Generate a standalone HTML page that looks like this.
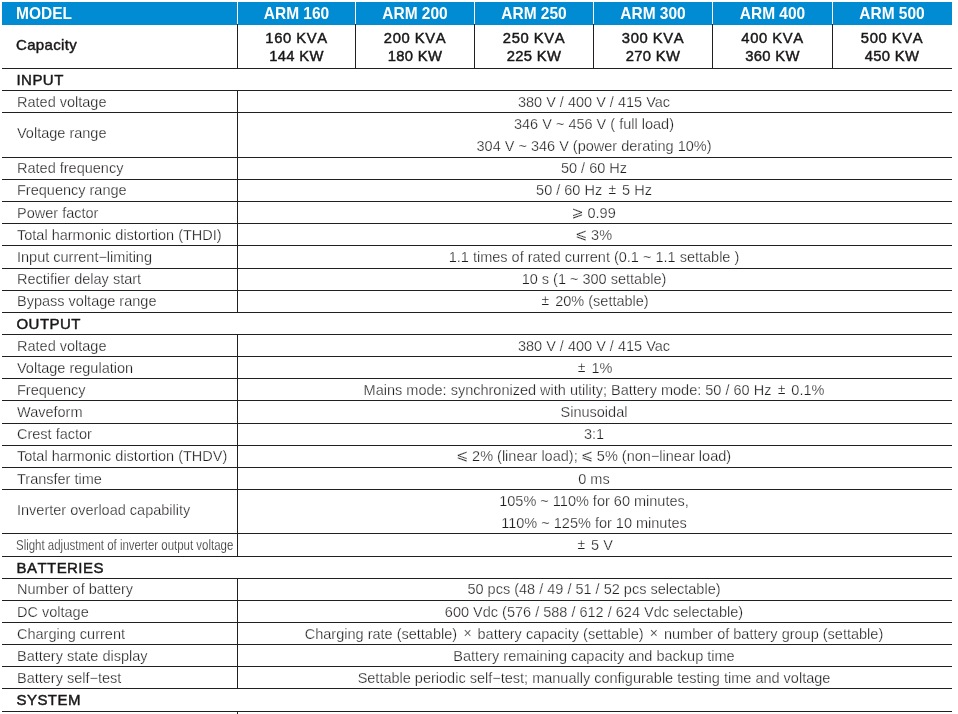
<!DOCTYPE html>
<html><head><meta charset="utf-8"><title>ARM specifications</title>
<style>
html,body{margin:0;padding:0;background:#fff;}
body{width:958px;height:714px;position:relative;overflow:hidden;font-family:"Liberation Sans",sans-serif;color:#231f20;}
.wrap{position:absolute;left:0;top:0;width:958px;height:714px;will-change:transform;}
.a{position:absolute;}
.hl{position:absolute;left:2px;width:950px;height:1px;background:#231f20;}
.vl{position:absolute;width:1px;background:#231f20;}
.hd{position:absolute;top:2px;height:23px;background:#008bd2;}
.ht{position:absolute;top:2px;height:23px;line-height:23px;color:#fff;font-weight:bold;font-size:15.5px;white-space:nowrap;transform:scaleY(1.08);transform-origin:0 17px;}
.cap{position:absolute;font-weight:normal;-webkit-text-stroke:0.45px #1a1718;font-size:14.8px;letter-spacing:0.3px;line-height:18px;text-align:center;white-space:nowrap;color:#1a1718;font-kerning:none;}
.sec{height:21px;line-height:21px;position:absolute;left:16.5px;font-weight:normal;-webkit-text-stroke:0.45px #1a1718;font-size:15px;letter-spacing:0.45px;font-kerning:none;white-space:nowrap;color:#1a1718;}
.lab{height:21px;line-height:21px;position:absolute;left:17px;font-size:14.5px;white-space:nowrap;color:#231f20;-webkit-text-stroke:0.25px #fff;}
.val{height:21px;line-height:21px;position:absolute;left:236px;width:716px;text-align:center;font-size:14.5px;white-space:nowrap;color:#231f20;-webkit-text-stroke:0.25px #fff;}
.val i{font-style:normal;padding:0 2.5px 0 1.7px;position:relative;top:-0.6px;left:0.6px;font-size:14px;}
.val b{font-weight:normal;font-family:"DejaVu Sans","Liberation Sans",sans-serif;font-size:14.5px;position:relative;top:-1.5px;margin-left:-1px;}
.lab.narrow{transform-origin:0 50%;transform:scaleX(0.7907);margin-left:-0.6px;}
</style></head><body><div class="wrap">

<div class="hd" style="left:2px;width:950px"></div>
<div class="a" style="left:237px;top:2px;width:1px;height:22px;background:#fff"></div>
<div class="a" style="left:355px;top:2px;width:1px;height:22px;background:#fff"></div>
<div class="a" style="left:474px;top:2px;width:1px;height:22px;background:#fff"></div>
<div class="a" style="left:593px;top:2px;width:1px;height:22px;background:#fff"></div>
<div class="a" style="left:712px;top:2px;width:1px;height:22px;background:#fff"></div>
<div class="a" style="left:832px;top:2px;width:1px;height:22px;background:#fff"></div>
<div class="ht" style="left:16px">MODEL</div>
<div class="ht" style="left:238px;width:117px;text-align:center">ARM 160</div>
<div class="cap" style="left:238px;width:117px;top:28.5px"><span style="letter-spacing:0.55px">160 KVA</span><br>144 KW</div>
<div class="ht" style="left:356px;width:118px;text-align:center">ARM 200</div>
<div class="cap" style="left:356px;width:118px;top:28.5px"><span style="letter-spacing:0.55px">200 KVA</span><br>180 KW</div>
<div class="ht" style="left:475px;width:118px;text-align:center">ARM 250</div>
<div class="cap" style="left:475px;width:118px;top:28.5px"><span style="letter-spacing:0.55px">250 KVA</span><br>225 KW</div>
<div class="ht" style="left:594px;width:118px;text-align:center">ARM 300</div>
<div class="cap" style="left:594px;width:118px;top:28.5px"><span style="letter-spacing:0.55px">300 KVA</span><br>270 KW</div>
<div class="ht" style="left:713px;width:119px;text-align:center">ARM 400</div>
<div class="cap" style="left:713px;width:119px;top:28.5px"><span style="letter-spacing:0.55px">400 KVA</span><br>360 KW</div>
<div class="ht" style="left:833px;width:118px;text-align:center">ARM 500</div>
<div class="cap" style="left:833px;width:118px;top:28.5px"><span style="letter-spacing:0.55px">500 KVA</span><br>450 KW</div>
<div class="cap" style="left:16px;top:36px;text-align:left;font-size:15px;letter-spacing:0.35px">Capacity</div>
<div class="vl" style="left:237px;top:24px;height:44px"></div>
<div class="vl" style="left:355px;top:24px;height:44px"></div>
<div class="vl" style="left:474px;top:24px;height:44px"></div>
<div class="vl" style="left:593px;top:24px;height:44px"></div>
<div class="vl" style="left:712px;top:24px;height:44px"></div>
<div class="vl" style="left:832px;top:24px;height:44px"></div>
<div class="hl" style="top:68px"></div>
<div class="sec" style="top:69px">INPUT</div>
<div class="hl" style="top:90px"></div>
<div class="lab" style="top:92px">Rated voltage</div>
<div class="vl" style="left:237px;top:90px;height:22px"></div>
<div class="val" style="top:92px">380 V / 400 V / 415 Vac</div>
<div class="hl" style="top:112px"></div>
<div class="lab" style="top:123px">Voltage range</div>
<div class="vl" style="left:237px;top:112px;height:45px"></div>
<div class="val" style="top:114px">346 V ~ 456 V ( full load)</div>
<div class="val" style="top:136px">304 V ~ 346 V (power derating 10%)</div>
<div class="hl" style="top:157px"></div>
<div class="lab" style="top:158px">Rated frequency</div>
<div class="vl" style="left:237px;top:157px;height:22px"></div>
<div class="val" style="top:158px">50 / 60 Hz</div>
<div class="hl" style="top:179px"></div>
<div class="lab" style="top:180px">Frequency range</div>
<div class="vl" style="left:237px;top:179px;height:22px"></div>
<div class="val" style="top:180px">50 / 60 Hz <i>±</i> 5 Hz</div>
<div class="hl" style="top:201px"></div>
<div class="lab" style="top:203px">Power factor</div>
<div class="vl" style="left:237px;top:201px;height:22px"></div>
<div class="val" style="top:203px"><b>⩾</b> 0.99</div>
<div class="hl" style="top:223px"></div>
<div class="lab" style="top:225px">Total harmonic distortion (THDI)</div>
<div class="vl" style="left:237px;top:223px;height:22px"></div>
<div class="val" style="top:225px"><b>⩽</b> 3%</div>
<div class="hl" style="top:245px"></div>
<div class="lab" style="top:247px">Input current−limiting</div>
<div class="vl" style="left:237px;top:245px;height:23px"></div>
<div class="val" style="top:247px">1.1 times of rated current (0.1 ~ 1.1 settable )</div>
<div class="hl" style="top:268px"></div>
<div class="lab" style="top:269px">Rectifier delay start</div>
<div class="vl" style="left:237px;top:268px;height:22px"></div>
<div class="val" style="top:269px">10 s (1 ~ 300 settable)</div>
<div class="hl" style="top:290px"></div>
<div class="lab" style="top:291px">Bypass voltage range</div>
<div class="vl" style="left:237px;top:290px;height:22px"></div>
<div class="val" style="top:291px"><i>±</i> 20% (settable)</div>
<div class="hl" style="top:312px"></div>
<div class="sec" style="top:313px">OUTPUT</div>
<div class="hl" style="top:334px"></div>
<div class="lab" style="top:336px">Rated voltage</div>
<div class="vl" style="left:237px;top:334px;height:22px"></div>
<div class="val" style="top:336px">380 V / 400 V / 415 Vac</div>
<div class="hl" style="top:356px"></div>
<div class="lab" style="top:358px">Voltage regulation</div>
<div class="vl" style="left:237px;top:356px;height:22px"></div>
<div class="val" style="top:358px"><i>±</i> 1%</div>
<div class="hl" style="top:378px"></div>
<div class="lab" style="top:380px">Frequency</div>
<div class="vl" style="left:237px;top:378px;height:22px"></div>
<div class="val" style="top:380px">Mains mode: synchronized with utility; Battery mode: 50 / 60 Hz <i>±</i> 0.1%</div>
<div class="hl" style="top:400px"></div>
<div class="lab" style="top:402px">Waveform</div>
<div class="vl" style="left:237px;top:400px;height:23px"></div>
<div class="val" style="top:402px">Sinusoidal</div>
<div class="hl" style="top:423px"></div>
<div class="lab" style="top:424px">Crest factor</div>
<div class="vl" style="left:237px;top:423px;height:22px"></div>
<div class="val" style="top:424px">3:1</div>
<div class="hl" style="top:445px"></div>
<div class="lab" style="top:446px">Total harmonic distortion (THDV)</div>
<div class="vl" style="left:237px;top:445px;height:22px"></div>
<div class="val" style="top:446px"><b>⩽</b> 2% (linear load); <b>⩽</b> 5% (non−linear load)</div>
<div class="hl" style="top:467px"></div>
<div class="lab" style="top:469px">Transfer time</div>
<div class="vl" style="left:237px;top:467px;height:22px"></div>
<div class="val" style="top:469px">0 ms</div>
<div class="hl" style="top:489px"></div>
<div class="lab" style="top:500px">Inverter overload capability</div>
<div class="vl" style="left:237px;top:489px;height:44px"></div>
<div class="val" style="top:491px">105% ~ 110% for 60 minutes,</div>
<div class="val" style="top:513px">110% ~ 125% for 10 minutes</div>
<div class="hl" style="top:533px"></div>
<div class="lab narrow" style="top:535px">Slight adjustment of inverter output voltage</div>
<div class="vl" style="left:237px;top:533px;height:23px"></div>
<div class="val" style="top:535px"><i>±</i> 5 V</div>
<div class="hl" style="top:556px"></div>
<div class="sec" style="top:557px">BATTERIES</div>
<div class="hl" style="top:578px"></div>
<div class="lab" style="top:579px">Number of battery</div>
<div class="vl" style="left:237px;top:578px;height:22px"></div>
<div class="val" style="top:579px">50 pcs (48 / 49 / 51 / 52 pcs selectable)</div>
<div class="hl" style="top:600px"></div>
<div class="lab" style="top:602px">DC voltage</div>
<div class="vl" style="left:237px;top:600px;height:22px"></div>
<div class="val" style="top:602px">600 Vdc (576 / 588 / 612 / 624 Vdc selectable)</div>
<div class="hl" style="top:622px"></div>
<div class="lab" style="top:624px">Charging current</div>
<div class="vl" style="left:237px;top:622px;height:22px"></div>
<div class="val" style="top:624px">Charging rate (settable) <i>×</i> battery capacity (settable) <i>×</i> number of battery group (settable)</div>
<div class="hl" style="top:644px"></div>
<div class="lab" style="top:646px">Battery state display</div>
<div class="vl" style="left:237px;top:644px;height:22px"></div>
<div class="val" style="top:646px">Battery remaining capacity and backup time</div>
<div class="hl" style="top:666px"></div>
<div class="lab" style="top:668px">Battery self−test</div>
<div class="vl" style="left:237px;top:666px;height:22px"></div>
<div class="val" style="top:668px">Settable periodic self−test; manually configurable testing time and voltage</div>
<div class="hl" style="top:688px"></div>
<div class="sec" style="top:689px">SYSTEM</div>
<div class="hl" style="top:711px"></div>
<div class="vl" style="left:237px;top:711px;height:10px"></div>
</div></body></html>
